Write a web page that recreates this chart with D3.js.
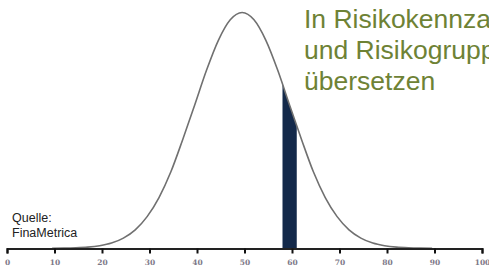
<!DOCTYPE html>
<html>
<head>
<meta charset="utf-8">
<script src="https://cdn.jsdelivr.net/npm/d3@7"></script>
<style>
  html, body { margin: 0; padding: 0; background: #fff; overflow: hidden; }
</style>
</head>
<body>
<div id="chart"></div>
<script>
// curve samples (x = score, y = % of peak height)
const curveX = [9.5, 12, 14.5, 17, 19.5, 22, 24.5, 27, 29.5, 32, 34.5, 37, 39.5, 42, 44.5, 47, 49.5,
    52, 54.5, 57, 59.5, 62, 64.5, 67, 69.5, 72, 74.5, 77, 79.5, 82, 84.5, 87, 89.5];
const curveY = [0.1, 0.15, 0.3, 0.6, 1.2, 2.3, 4.4, 7.9, 13.5, 21.6, 32.5, 46.2, 60.7, 75.5, 88.2, 96.9, 100,
    96.9, 88.2, 75.5, 60.7, 46.2, 32.5, 21.6, 13.5, 7.9, 4.4, 2.3, 1.2, 0.6, 0.3, 0.15, 0.1];
const band = [58, 61];
const ticks = [0, 10, 20, 30, 40, 50, 60, 70, 80, 90, 100];
const titleLines = ["In Risikokennzahlen", "und Risikogruppen", "übersetzen"];
const sourceLines = ["Quelle:", "FinaMetrica"];

const W = 489, H = 269;
const margin = { top: 12.5, right: 7, bottom: 20, left: 7 },
    width = W - margin.left - margin.right,
    height = H - margin.top - margin.bottom;

const svg = d3.select("#chart")
    .append("svg")
    .attr("width", W)
    .attr("height", H)
    .append("g")
    .attr("transform", `translate(${margin.left},${margin.top})`);

const x = d3.scaleLinear().domain([0, 100]).range([0, width]);
const y = d3.scaleLinear().domain([0, 100]).range([height - 0.5, 0]);

const pts = curveX.map((v, i) => [v, curveY[i]]);

const area = d3.area()
    .x(d => x(d[0]))
    .y0(y(0))
    .y1(d => y(d[1]))
    .curve(d3.curveMonotoneX);

const line = d3.line()
    .x(d => x(d[0]))
    .y(d => y(d[1]))
    .curve(d3.curveMonotoneX);

svg.append("clipPath")
    .attr("id", "under")
    .append("path")
    .attr("d", area(pts));

// highlighted band under the curve
svg.append("rect")
    .attr("clip-path", "url(#under)")
    .attr("x", x(band[0]))
    .attr("width", x(band[1]) - x(band[0]))
    .attr("y", 0)
    .attr("height", y(0))
    .attr("fill", "#13294a");

svg.append("path")
    .attr("d", line(pts))
    .attr("fill", "none")
    .attr("stroke", "#707070")
    .attr("stroke-width", 1.6);

const axis = svg.append("g")
    .attr("transform", `translate(0,${y(0)})`)
    .call(d3.axisBottom(x).tickValues(ticks).tickSizeInner(5).tickSizeOuter(5).tickPadding(6));

axis.select(".domain").attr("stroke", "#222").attr("stroke-width", 2);
axis.selectAll(".tick line").attr("stroke", "#111").attr("stroke-width", 2);
axis.selectAll(".tick text")
    .attr("fill", "#7d7888")
    .style("font-family", "'DejaVu Serif', serif")
    .style("font-weight", "bold")
    .style("font-size", "7.5px");

svg.append("text")
    .attr("x", 304 - margin.left)
    .attr("y", 28 - margin.top)
    .attr("fill", "#6e8235")
    .style("font-family", "'Liberation Sans', Arial, sans-serif")
    .style("font-size", "26.5px")
    .selectAll("tspan")
    .data(titleLines)
    .join("tspan")
    .attr("x", 304 - margin.left)
    .attr("dy", (d, i) => i ? 31 : 0)
    .text(d => d);

svg.append("text")
    .attr("x", 12 - margin.left)
    .attr("y", 222 - margin.top)
    .attr("fill", "#222")
    .style("font-family", "'Liberation Sans', Arial, sans-serif")
    .style("font-size", "12.5px")
    .selectAll("tspan")
    .data(sourceLines)
    .join("tspan")
    .attr("x", 12 - margin.left)
    .attr("dy", (d, i) => i ? 15 : 0)
    .text(d => d);
</script>
</body>
</html>
